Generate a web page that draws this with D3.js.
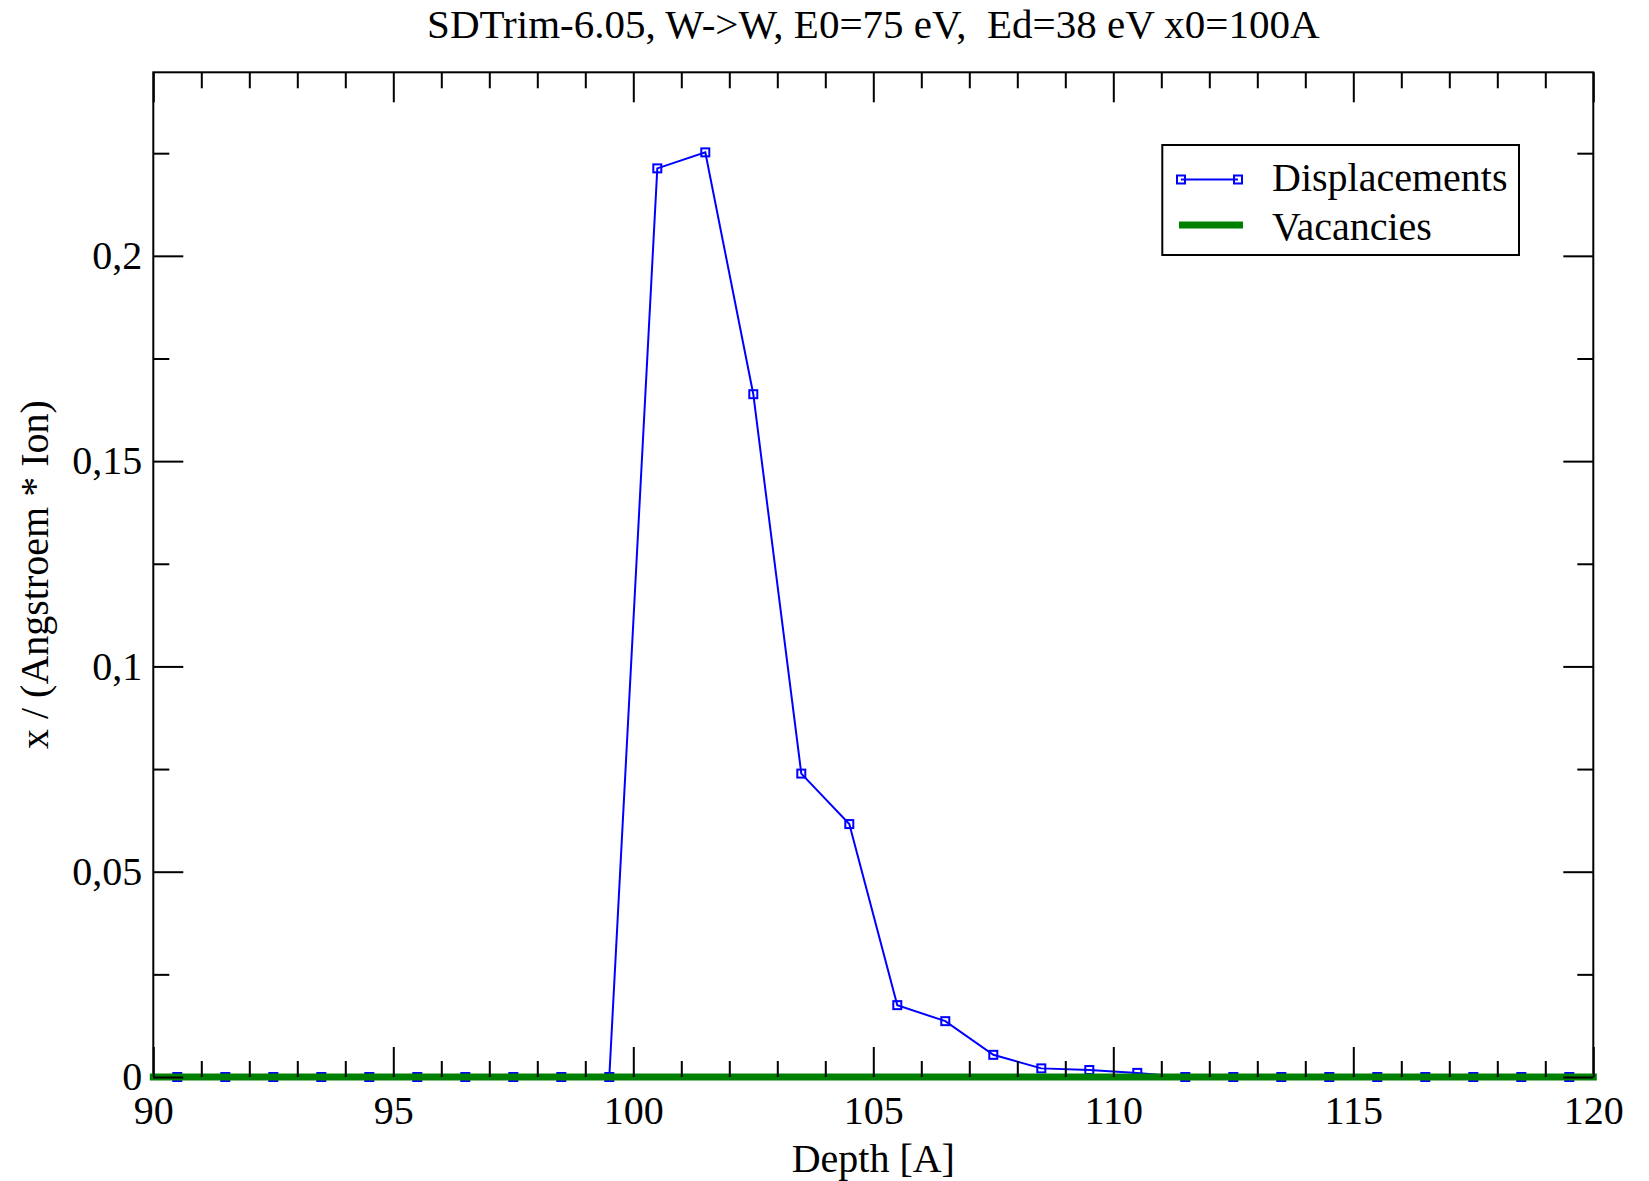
<!DOCTYPE html>
<html>
<head>
<meta charset="utf-8">
<script src="https://cdn.jsdelivr.net/npm/d3@7"></script>
<style>
  html, body { margin: 0; padding: 0; background: #fff; }
  svg { display: block; }
  text { font-family: "Liberation Serif", "Times New Roman", serif; fill: #000; }
</style>
</head>
<body>
<svg id="chart" width="1649" height="1181"></svg>
<script>
// ---------------- data ----------------
const titleText = "SDTrim-6.05, W->W, E0=75 eV,  Ed=38 eV x0=100A";
const xLabel = "Depth [A]";
const yLabel = "x / (Angstroem * Ion)";
const seriesNames = ["Displacements", "Vacancies"];

const depth = [90.5, 91.5, 92.5, 93.5, 94.5, 95.5, 96.5, 97.5, 98.5, 99.5,
               100.5, 101.5, 102.5, 103.5, 104.5, 105.5, 106.5, 107.5, 108.5, 109.5,
               110.5, 111.5, 112.5, 113.5, 114.5, 115.5, 116.5, 117.5, 118.5, 119.5];
const displacements = [0, 0, 0, 0, 0, 0, 0, 0, 0, 0,
                       0.2213, 0.2252, 0.1663, 0.0739, 0.0616, 0.0175, 0.0136, 0.0054, 0.0021, 0.0017,
                       0.0010, 0, 0, 0, 0, 0, 0, 0, 0, 0];
const vacancyDepth = [90, 90.5, 91.5, 92.5, 93.5, 94.5, 95.5, 96.5, 97.5, 98.5, 99.5,
                      100.5, 101.5, 102.5, 103.5, 104.5, 105.5, 106.5, 107.5, 108.5, 109.5,
                      110.5, 111.5, 112.5, 113.5, 114.5, 115.5, 116.5, 117.5, 118.5, 119.5, 120];
const vacancies = [0, 0, 0, 0, 0, 0, 0, 0, 0, 0, 0,
                   0, 0, 0, 0, 0, 0, 0, 0, 0, 0,
                   0, 0, 0, 0, 0, 0, 0, 0, 0, 0, 0];

const xDomain = [90, 120];
const yDomain = [0, 0.2447];
const xMajorTicks = [90, 95, 100, 105, 110, 115, 120];
const xMajorLabels = ["90", "95", "100", "105", "110", "115", "120"];
const xMinorTicks = [91, 92, 93, 94, 96, 97, 98, 99, 101, 102, 103, 104, 106, 107, 108, 109, 111, 112, 113, 114, 116, 117, 118, 119];
const yMajorTicks = [0, 0.05, 0.1, 0.15, 0.2];
const yMajorLabels = ["0", "0,05", "0,1", "0,15", "0,2"];
const yMinorTicks = [0.025, 0.075, 0.125, 0.175, 0.225];

// ---------------- layout ----------------
const svg = d3.select("#chart");
const L = 153.3, R = 1593.3, T = 72.3, B = 1077;
const FONT = 40;
const MS = 8; // marker side

const x = d3.scaleLinear().domain(xDomain).range([L, R]);
const y = d3.scaleLinear().domain(yDomain).range([B, T]);

svg.append("rect").attr("width", 1649).attr("height", 1181).attr("fill", "#fff");

// frame
svg.append("rect")
  .attr("x", L).attr("y", T).attr("width", R - L).attr("height", B - T)
  .attr("fill", "none").attr("stroke", "#000").attr("stroke-width", 2);

// data
const line = d3.line().x(d => x(d[0])).y(d => y(d[1]));
const dispData = depth.map((d, i) => [d, displacements[i]]);
const vacData = vacancyDepth.map((d, i) => [d, vacancies[i]]);

svg.append("path").datum(dispData).attr("d", line)
  .attr("fill", "none").attr("stroke", "#0000ff").attr("stroke-width", 2);
svg.append("g").selectAll("rect").data(dispData).join("rect")
  .attr("x", d => x(d[0]) - MS / 2).attr("y", d => y(d[1]) - MS / 2)
  .attr("width", MS).attr("height", MS)
  .attr("fill", "none").attr("stroke", "#0000ff").attr("stroke-width", 2);

svg.append("path").datum(vacData).attr("d", line)
  .attr("fill", "none").attr("stroke", "#008000").attr("stroke-width", 7)
  .attr("stroke-linecap", "square");

// axes (ticks inward on all four sides)
function styleAxis(g) {
  g.select(".domain").remove();
  g.selectAll(".tick line").attr("stroke", "#000").attr("stroke-width", 2);
}
const MAJ = 30, MIN = 16;

svg.append("g").attr("transform", `translate(0,${B})`)
  .call(d3.axisBottom(x).tickValues(xMajorTicks).tickSize(-MAJ)
        .tickFormat((d, i) => xMajorLabels[i]))
  .call(styleAxis)
  .call(g => g.selectAll(".tick text").attr("font-size", FONT)
    .attr("font-family", "Liberation Serif").attr("dy", null).attr("y", 47));
svg.append("g").attr("transform", `translate(0,${B})`)
  .call(d3.axisBottom(x).tickValues(xMinorTicks).tickSize(-MIN).tickFormat(""))
  .call(styleAxis);
svg.append("g").attr("transform", `translate(0,${T})`)
  .call(d3.axisTop(x).tickValues(xMajorTicks).tickSize(-MAJ).tickFormat(""))
  .call(styleAxis);
svg.append("g").attr("transform", `translate(0,${T})`)
  .call(d3.axisTop(x).tickValues(xMinorTicks).tickSize(-MIN).tickFormat(""))
  .call(styleAxis);

svg.append("g").attr("transform", `translate(${L},0)`)
  .call(d3.axisLeft(y).tickValues(yMajorTicks).tickSize(-MAJ)
        .tickFormat((d, i) => yMajorLabels[i]))
  .call(styleAxis)
  .call(g => g.selectAll(".tick text").attr("font-size", FONT)
    .attr("font-family", "Liberation Serif").attr("x", -11).attr("dy", "0.32em"));
svg.append("g").attr("transform", `translate(${L},0)`)
  .call(d3.axisLeft(y).tickValues(yMinorTicks).tickSize(-MIN).tickFormat(""))
  .call(styleAxis);
svg.append("g").attr("transform", `translate(${R},0)`)
  .call(d3.axisRight(y).tickValues(yMajorTicks).tickSize(-MAJ).tickFormat(""))
  .call(styleAxis);
svg.append("g").attr("transform", `translate(${R},0)`)
  .call(d3.axisRight(y).tickValues(yMinorTicks).tickSize(-MIN).tickFormat(""))
  .call(styleAxis);

// title and axis labels
svg.append("text").attr("x", (L + R) / 2).attr("y", 38)
  .attr("text-anchor", "middle").attr("font-size", 41)
  .style("white-space", "pre").text(titleText);
svg.append("text").attr("x", (L + R) / 2).attr("y", 1172)
  .attr("text-anchor", "middle").attr("font-size", FONT).text(xLabel);
svg.append("text").attr("transform", `translate(48,${(T + B) / 2}) rotate(-90)`)
  .attr("text-anchor", "middle").attr("font-size", FONT).text(yLabel);

// legend
const lg = svg.append("g");
lg.append("rect").attr("x", 1162.3).attr("y", 145).attr("width", 1519 - 1162.3).attr("height", 110)
  .attr("fill", "#fff").attr("stroke", "#000").attr("stroke-width", 2);
lg.append("line").attr("x1", 1181).attr("x2", 1238).attr("y1", 179.5).attr("y2", 179.5)
  .attr("stroke", "#0000ff").attr("stroke-width", 2);
[1181, 1238].forEach(cx => {
  lg.append("rect").attr("x", cx - MS / 2).attr("y", 179.5 - MS / 2).attr("width", MS).attr("height", MS)
    .attr("fill", "none").attr("stroke", "#0000ff").attr("stroke-width", 2);
});
lg.append("text").attr("x", 1272).attr("y", 191).attr("font-size", FONT).text(seriesNames[0]);
lg.append("line").attr("x1", 1179).attr("x2", 1243).attr("y1", 225).attr("y2", 225)
  .attr("stroke", "#008000").attr("stroke-width", 7);
lg.append("text").attr("x", 1272).attr("y", 240).attr("font-size", FONT).text(seriesNames[1]);
</script>
</body>
</html>
